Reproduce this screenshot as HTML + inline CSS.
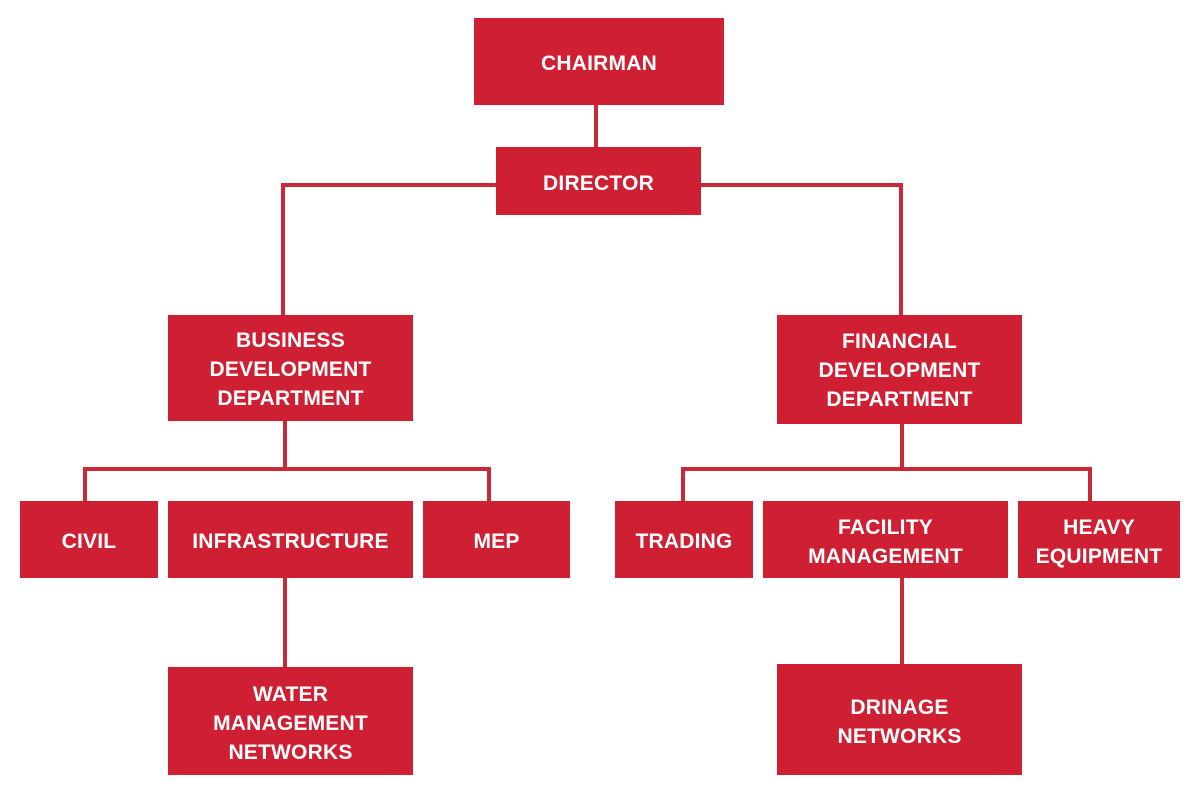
<!DOCTYPE html>
<html><head><meta charset="utf-8"><style>
body{margin:0;width:1200px;height:804px;background:#fff;position:relative;overflow:hidden;font-family:"Liberation Sans",sans-serif}
.b{position:absolute;box-sizing:border-box;padding-top:4px;background:#cf1f33;color:#fff;font-weight:bold;font-size:21px;line-height:29px;display:flex;align-items:center;justify-content:center;text-align:center;letter-spacing:0.2px}
.l{position:absolute;background:#c92a3a}
</style></head><body>
<div class="l" style="left:594px;top:105px;width:4px;height:44px"></div>
<div class="l" style="left:281px;top:183px;width:622px;height:4px"></div>
<div class="l" style="left:281px;top:183px;width:4px;height:134px"></div>
<div class="l" style="left:899px;top:183px;width:4px;height:134px"></div>
<div class="l" style="left:283px;top:420px;width:4px;height:50px"></div>
<div class="l" style="left:83px;top:467px;width:408px;height:4px"></div>
<div class="l" style="left:83px;top:467px;width:4px;height:36px"></div>
<div class="l" style="left:487px;top:467px;width:4px;height:36px"></div>
<div class="l" style="left:900px;top:422px;width:4px;height:48px"></div>
<div class="l" style="left:681px;top:467px;width:411px;height:4px"></div>
<div class="l" style="left:681px;top:467px;width:4px;height:36px"></div>
<div class="l" style="left:1088px;top:467px;width:4px;height:36px"></div>
<div class="l" style="left:283px;top:577px;width:4px;height:92px"></div>
<div class="l" style="left:900px;top:577px;width:4px;height:89px"></div>

<div class="b" style="left:474px;top:18px;width:250px;height:87px">CHAIRMAN</div>
<div class="b" style="left:496px;top:147px;width:205px;height:68px">DIRECTOR</div>
<div class="b" style="left:168px;top:315px;width:245px;height:106px;padding-top:2px">BUSINESS<br>DEVELOPMENT<br>DEPARTMENT</div>
<div class="b" style="left:777px;top:315px;width:245px;height:109px;padding-top:2px">FINANCIAL<br>DEVELOPMENT<br>DEPARTMENT</div>
<div class="b" style="left:20px;top:501px;width:138px;height:77px">CIVIL</div>
<div class="b" style="left:168px;top:501px;width:245px;height:77px">INFRASTRUCTURE</div>
<div class="b" style="left:423px;top:501px;width:147px;height:77px">MEP</div>
<div class="b" style="left:615px;top:501px;width:138px;height:77px">TRADING</div>
<div class="b" style="left:763px;top:501px;width:245px;height:77px">FACILITY<br>MANAGEMENT</div>
<div class="b" style="left:1018px;top:501px;width:162px;height:77px">HEAVY<br>EQUIPMENT</div>
<div class="b" style="left:168px;top:667px;width:245px;height:108px">WATER<br>MANAGEMENT<br>NETWORKS</div>
<div class="b" style="left:777px;top:664px;width:245px;height:111px">DRINAGE<br>NETWORKS</div>
</body></html>
